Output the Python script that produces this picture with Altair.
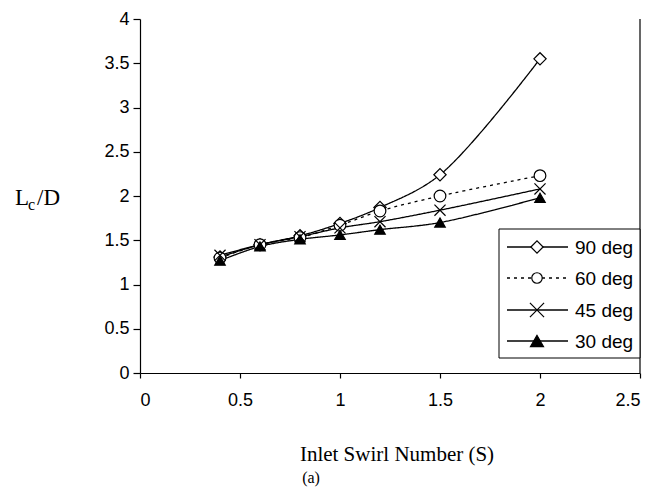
import altair as alt
import pandas as pd

# ---- data ----
swirl = [0.4, 0.6, 0.8, 1.0, 1.2, 1.5, 2.0]
series_names = ["90 deg", "60 deg", "45 deg", "30 deg"]
lc_90 = [1.31, 1.45, 1.55, 1.69, 1.87, 2.24, 3.55]
lc_60 = [1.30, 1.45, 1.53, 1.67, 1.83, 2.00, 2.23]
lc_45 = [1.33, 1.45, 1.54, 1.64, 1.71, 1.84, 2.08]
lc_30 = [1.27, 1.43, 1.51, 1.56, 1.62, 1.70, 1.98]
x_ticks = [0, 0.5, 1, 1.5, 2, 2.5]
y_ticks = [0, 0.5, 1, 1.5, 2, 2.5, 3, 3.5, 4]

rows = []
for name, vals in zip(series_names, [lc_90, lc_60, lc_45, lc_30]):
    for s, v in zip(swirl, vals):
        rows.append({"S": s, "LcD": v, "series": name})
df = pd.DataFrame(rows)

W, H = 500, 354
SANS = "Liberation Sans"
SERIF = "Liberation Serif"

dash_scale = alt.Scale(domain=series_names, range=[[1, 0], [3, 4], [1, 0], [1, 0]])
shape_scale = alt.Scale(domain=series_names,
                        range=["diamond", "circle", "M-1,-1L1,1M-1,1L1,-1", "triangle-up"])
fill_scale = alt.Scale(domain=series_names, range=["white", "white", "transparent", "black"])
size_scale = alt.Scale(domain=series_names, range=[150, 110, 200, 170])

x_enc = alt.X("S:Q", scale=alt.Scale(domain=[0, 2.5], nice=False),
              axis=alt.Axis(values=x_ticks, format="~g", title=None, grid=False,
                            tickSize=5, labelPadding=13, labelFontSize=18, labelFont=SANS,
                            labelColor="black", domainColor="black", tickColor="black",
                            domainWidth=1.2, tickWidth=1.2))
y_enc = alt.Y("LcD:Q", scale=alt.Scale(domain=[0, 4], nice=False),
              axis=alt.Axis(values=y_ticks, format="~g", title=None, grid=False,
                            tickSize=7, labelPadding=4, labelFontSize=18, labelFont=SANS,
                            labelColor="black", domainColor="black", tickColor="black",
                            domainWidth=1.2, tickWidth=1.2))

base = alt.Chart(df)
lines = base.mark_line(interpolate="catmull-rom", strokeWidth=1.3, color="black").encode(
    x=x_enc, y=y_enc, detail="series:N",
    strokeDash=alt.StrokeDash("series:N", scale=dash_scale, legend=None))
points = base.mark_point(stroke="black", strokeWidth=1.2, opacity=1).encode(
    x="S:Q", y="LcD:Q",
    shape=alt.Shape("series:N", scale=shape_scale, legend=None),
    fill=alt.Fill("series:N", scale=fill_scale, legend=None),
    size=alt.Size("series:N", scale=size_scale, legend=None))

one = pd.DataFrame({"a": [0]})
right_border = alt.Chart(one).mark_rule(color="black", strokeWidth=1.2).encode(
    x=alt.value(W), y=alt.value(0), y2=alt.value(H))

# legend box
leg_box = alt.Chart(one).mark_rect(fill="white", stroke="black", strokeWidth=1).encode(
    x=alt.value(359), x2=alt.value(W), y=alt.value(210), y2=alt.value(339))

layers = [lines, points, right_border, leg_box]
leg_y = [228, 259, 291, 322]
dashes = [[1, 0], [3, 4], [1, 0], [1, 0]]
shapes = ["diamond", "circle", "M-1,-1L1,1M-1,1L1,-1", "triangle-up"]
fills = ["white", "white", "transparent", "black"]
sizes = [150, 110, 200, 170]
for i, name in enumerate(series_names):
    d = pd.DataFrame({"series": [name]})
    layers.append(alt.Chart(d).mark_rule(color="black", strokeWidth=1.3, strokeDash=dashes[i]).encode(
        x=alt.value(367), x2=alt.value(428), y=alt.value(leg_y[i])))
    layers.append(alt.Chart(d).mark_point(shape=shapes[i], fill=fills[i], stroke="black",
                                          strokeWidth=1.2, opacity=1, size=sizes[i]).encode(
        x=alt.value(397), y=alt.value(leg_y[i])))
    layers.append(alt.Chart(d).mark_text(align="left", baseline="middle", fontSize=19,
                                         font=SANS, color="black").encode(
        x=alt.value(435), y=alt.value(leg_y[i] + 1), text="series:N"))

# axis titles
def txt(s, x, y, size, font=SERIF, baseline="alphabetic", align="left"):
    return alt.Chart(pd.DataFrame({"t": [s]})).mark_text(
        align=align, baseline=baseline, fontSize=size, font=font, color="black").encode(
        x=alt.value(x), y=alt.value(y), text="t:N")

layers += [
    txt("L", -125, 186, 23),
    txt("c", -112, 191, 16),
    txt("/D", -103, 186, 23),
    txt("Inlet Swirl Number (S)", 257, 436, 21, baseline="middle", align="center"),
    txt("(a)", 171, 459, 16, baseline="middle", align="center"),
]

chart = alt.layer(*layers).properties(
    width=W, height=H,
    autosize=alt.AutoSizeParams(type="none"),
    padding={"left": 132, "top": 11, "right": 10, "bottom": 116},
    background="white",
).configure_view(stroke=None)

chart.save("out.html", embed_options={"renderer": "svg", "actions": False})
